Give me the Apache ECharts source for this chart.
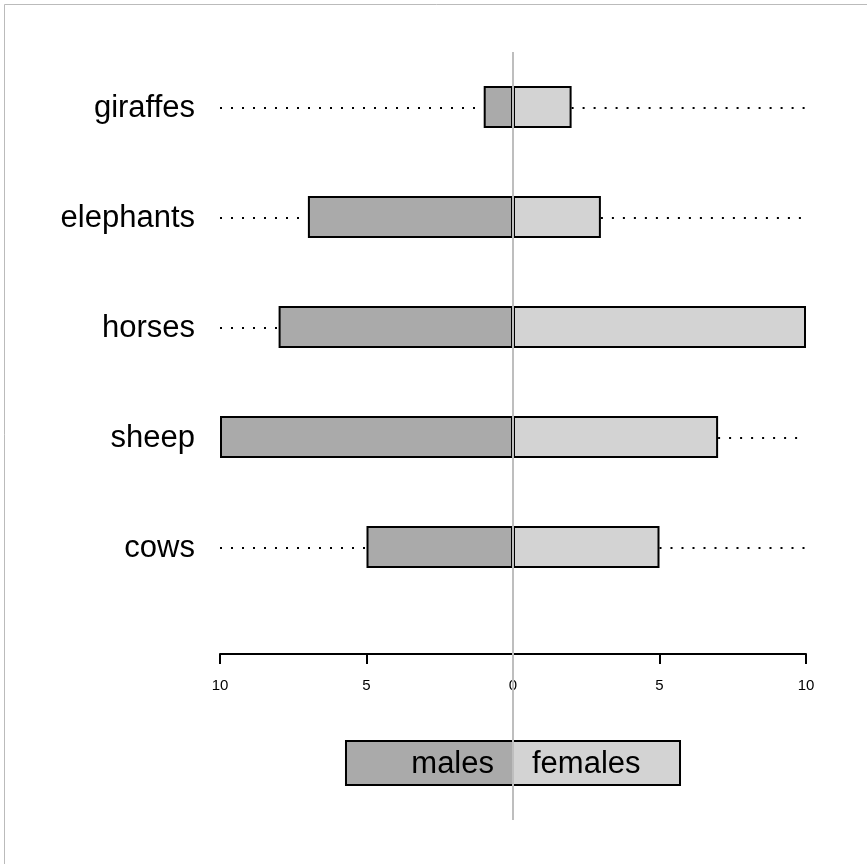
<!DOCTYPE html>
<html><head><meta charset="utf-8">
<script src="https://cdn.jsdelivr.net/npm/echarts@6/dist/echarts.min.js"></script>
<style>html,body{margin:0;padding:0;background:#fff;}#c{width:867px;height:864px;}</style>
</head><body><div id="c"></div>
<script>
const categories = ['giraffes','elephants','horses','sheep','cows'];
const males = [1, 7, 8, 10, 5];
const females = [2, 3, 10, 7, 5];
const tickValues = [-10, -5, 0, 5, 10];
const legendLabels = ['males', 'females'];
const legendHalfWidth = 5.7;

const FONT = '"Liberation Sans", Arial, Helvetica, sans-serif';
const BIG = 31;
const chart = echarts.init(document.getElementById('c'), null, {renderer:'canvas'});

const rowData = categories.map((c, i) => [i, -males[i], females[i]]);

chart.setOption({
  animation: false,
  backgroundColor: '#fff',
  grid: { left: 220, right: 61, top: 52, height: 550 },
  xAxis: {
    type: 'value', min: -10, max: 10, interval: 5, offset: 52,
    axisLine: { show: true, lineStyle: { color: '#000', width: 2 } },
    axisTick: { show: true, inside: false, length: 10, lineStyle: { color: '#000', width: 2 } },
    axisLabel: { formatter: v => String(Math.abs(v)), fontSize: 15, color: '#000', fontFamily: FONT, margin: 24 },
    splitLine: { show: false }
  },
  yAxis: {
    type: 'category', data: categories, inverse: true,
    axisLine: { show: false }, axisTick: { show: false },
    axisLabel: { show: false }
  },
  series: [
    {
      type: 'custom', z: 1,
      data: rowData,
      encode: { y: 0 },
      renderItem: function (params, api) {
        const ci = api.value(0);
        const left0 = api.coord([-10, ci]);
        const left1 = api.coord([api.value(1), ci]);
        const right0 = api.coord([api.value(2), ci]);
        const right1 = api.coord([10, ci]);
        const style = { stroke: '#000', lineWidth: 2, lineDash: [2, 9], lineCap: 'butt' };
        return { type: 'group', children: [
          { type: 'line', shape: { x1: left0[0], y1: left0[1] + 1, x2: left1[0], y2: left1[1] + 1 }, style: style },
          { type: 'line', shape: { x1: right0[0], y1: right0[1] + 1, x2: right1[0], y2: right1[1] + 1 }, style: style },
          { type: 'text', x: left0[0] - 25, y: left0[1] + 1,
            style: { text: categories[ci], fontSize: BIG, fontFamily: FONT, fill: '#000', align: 'right', verticalAlign: 'middle' } }
        ]};
      }
    },
    {
      name: 'males', type: 'bar', stack: 'a', barWidth: 42, z: 2,
      data: males.map(v => -v),
      itemStyle: { color: '#aaaaaa', borderColor: '#000', borderWidth: 2 }
    },
    {
      name: 'females', type: 'bar', stack: 'a', barWidth: 42, z: 2,
      data: females,
      itemStyle: { color: '#d3d3d3', borderColor: '#000', borderWidth: 2 }
    }
  ]
});

function draw() {
  const p0 = chart.convertToPixel({ xAxisIndex: 0 }, 0);
  const pl = chart.convertToPixel({ xAxisIndex: 0 }, -legendHalfWidth);
  const pr = chart.convertToPixel({ xAxisIndex: 0 }, legendHalfWidth);
  const top = 741, bottom = 785;
  chart.setOption({
    graphic: [
      { type: 'rect', shape: { x: 4.5, y: 4.5, width: 900, height: 900 }, style: { fill: 'none', stroke: '#bbb', lineWidth: 1 }, z: 0, silent: true },
      { type: 'rect', shape: { x: pl, y: top, width: p0 - pl, height: bottom - top }, style: { fill: '#aaaaaa', stroke: '#000', lineWidth: 2 }, z: 5 },
      { type: 'rect', shape: { x: p0, y: top, width: pr - p0, height: bottom - top }, style: { fill: '#d3d3d3', stroke: '#000', lineWidth: 2 }, z: 5 },
      { type: 'text', x: p0 - 19, y: (top + bottom) / 2 + 1, style: { text: legendLabels[0], fontSize: BIG, fontFamily: FONT, fill: '#000', align: 'right', verticalAlign: 'middle' }, z: 6 },
      { type: 'text', x: p0 + 19, y: (top + bottom) / 2 + 1, style: { text: legendLabels[1], fontSize: BIG, fontFamily: FONT, fill: '#000', align: 'left', verticalAlign: 'middle' }, z: 6 },
      { type: 'line', shape: { x1: p0, y1: 52, x2: p0, y2: 820 }, style: { stroke: '#bebebe', lineWidth: 2 }, z: 10, silent: true }
    ]
  });
}
draw();
</script></body></html>
